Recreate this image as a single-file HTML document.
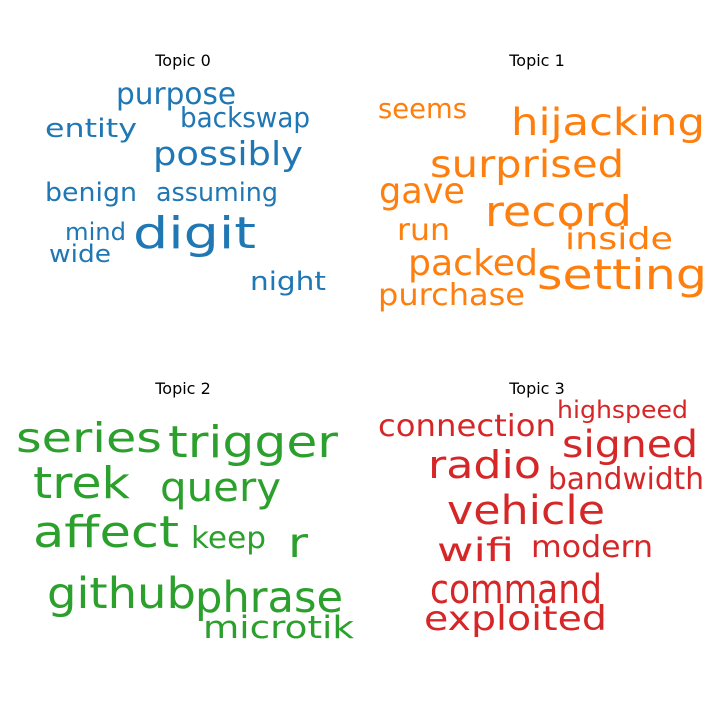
<!DOCTYPE html>
<html><head><meta charset="utf-8"><style>
html,body{margin:0;padding:0;background:#fff;}
svg{display:block;}
text{font-family:"DejaVu Sans","Liberation Sans",sans-serif;}
.t{font-size:16px;fill:#000;text-anchor:middle;}
.b{fill:#1f77b4}.o{fill:#ff7f0e}.g{fill:#2ca02c}.r{fill:#d62728}
</style></head><body>
<svg width="720" height="720" viewBox="0 0 720 720" xmlns="http://www.w3.org/2000/svg">
<rect width="720" height="720" fill="#fff"/>
<text class="t" x="183" y="66">Topic 0</text>
<text class="t" x="537" y="66">Topic 1</text>
<text class="t" x="183" y="394">Topic 2</text>
<text class="t" x="537" y="394">Topic 3</text>

<g class="b">
<text x="116" y="104" font-size="30" textLength="120" lengthAdjust="spacingAndGlyphs">purpose</text>
<text x="180" y="127" font-size="28" textLength="130" lengthAdjust="spacingAndGlyphs">backswap</text>
<text x="45" y="137" font-size="26" textLength="92" lengthAdjust="spacingAndGlyphs">entity</text>
<text x="153" y="165" font-size="33" textLength="150" lengthAdjust="spacingAndGlyphs">possibly</text>
<text x="45" y="201" font-size="26" textLength="92" lengthAdjust="spacingAndGlyphs">benign</text>
<text x="156" y="201" font-size="26" textLength="122" lengthAdjust="spacingAndGlyphs">assuming</text>
<text x="65" y="240" font-size="24" textLength="61" lengthAdjust="spacingAndGlyphs">mind</text>
<text x="133" y="248" font-size="44" textLength="123" lengthAdjust="spacingAndGlyphs">digit</text>
<text x="49" y="262" font-size="24" textLength="62" lengthAdjust="spacingAndGlyphs">wide</text>
<text x="250" y="290" font-size="26" textLength="76" lengthAdjust="spacingAndGlyphs">night</text>
</g>

<g class="o">
<text x="378" y="118" font-size="28" textLength="89" lengthAdjust="spacingAndGlyphs">seems</text>
<text x="511" y="135" font-size="37" textLength="194" lengthAdjust="spacingAndGlyphs">hijacking</text>
<text x="430" y="177" font-size="37" textLength="194" lengthAdjust="spacingAndGlyphs">surprised</text>
<text x="379" y="203" font-size="36" textLength="86" lengthAdjust="spacingAndGlyphs">gave</text>
<text x="485" y="226" font-size="42" textLength="147" lengthAdjust="spacingAndGlyphs">record</text>
<text x="397" y="240" font-size="30" textLength="53" lengthAdjust="spacingAndGlyphs">run</text>
<text x="565" y="249" font-size="30" textLength="108" lengthAdjust="spacingAndGlyphs">inside</text>
<text x="408" y="275" font-size="36" textLength="130" lengthAdjust="spacingAndGlyphs">packed</text>
<text x="537" y="289" font-size="42" textLength="170" lengthAdjust="spacingAndGlyphs">setting</text>
<text x="378" y="305" font-size="30" textLength="147" lengthAdjust="spacingAndGlyphs">purchase</text>
</g>

<g class="g">
<text x="16" y="452" font-size="41" textLength="146" lengthAdjust="spacingAndGlyphs">series</text>
<text x="168" y="457" font-size="44" textLength="170" lengthAdjust="spacingAndGlyphs">trigger</text>
<text x="33" y="498" font-size="44" textLength="97" lengthAdjust="spacingAndGlyphs">trek</text>
<text x="160" y="501" font-size="40" textLength="121" lengthAdjust="spacingAndGlyphs">query</text>
<text x="33" y="547" font-size="44" textLength="146" lengthAdjust="spacingAndGlyphs">affect</text>
<text x="191" y="548" font-size="30" textLength="75" lengthAdjust="spacingAndGlyphs">keep</text>
<text x="288" y="557" font-size="41" textLength="20" lengthAdjust="spacingAndGlyphs">r</text>
<text x="47" y="608" font-size="43" textLength="149" lengthAdjust="spacingAndGlyphs">github</text>
<text x="195" y="612" font-size="43" textLength="148" lengthAdjust="spacingAndGlyphs">phrase</text>
<text x="203" y="638" font-size="31" textLength="151" lengthAdjust="spacingAndGlyphs">microtik</text>
</g>

<g class="r">
<text x="557" y="418" font-size="24" textLength="131" lengthAdjust="spacingAndGlyphs">highspeed</text>
<text x="378" y="436" font-size="30" textLength="178" lengthAdjust="spacingAndGlyphs">connection</text>
<text x="562" y="457" font-size="37" textLength="136" lengthAdjust="spacingAndGlyphs">signed</text>
<text x="428" y="478" font-size="38" textLength="113" lengthAdjust="spacingAndGlyphs">radio</text>
<text x="548" y="489" font-size="30" textLength="156" lengthAdjust="spacingAndGlyphs">bandwidth</text>
<text x="447" y="524" font-size="40" textLength="158" lengthAdjust="spacingAndGlyphs">vehicle</text>
<text x="437" y="561" font-size="32" textLength="77" lengthAdjust="spacingAndGlyphs">wifi</text>
<text x="531" y="557" font-size="30" textLength="122" lengthAdjust="spacingAndGlyphs">modern</text>
<text x="430" y="603" font-size="40" textLength="172" lengthAdjust="spacingAndGlyphs">command</text>
<text x="424" y="630" font-size="34" textLength="183" lengthAdjust="spacingAndGlyphs">exploited</text>
</g>
</svg>
</body></html>
